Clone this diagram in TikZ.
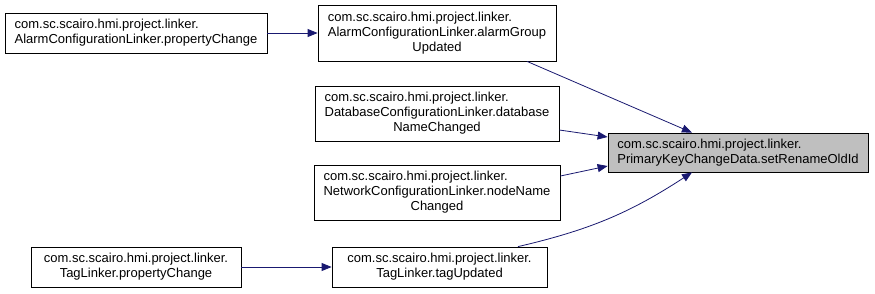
\documentclass[tikz,border=0pt]{standalone}
\usepackage{fontspec}
\setmainfont{Liberation Sans}
\usetikzlibrary{arrows.meta}

\definecolor{edgeblue}{HTML}{191970}
\definecolor{hlgray}{HTML}{BFBFBF}

% last line of a label is centred, the others are left aligned
\newcommand{\lastrow}[1]{\multicolumn{1}{@{}c@{}}{#1}}

\begin{document}
\begin{tikzpicture}[x=1pt, y=-1pt,
    fn/.style={draw=black, line width=0.8pt, inner sep=0pt,
        font=\fontsize{13}{15}\selectfont},
    cur/.style={fn, fill=hlgray},
    call/.style={draw=edgeblue, line width=0.8pt,
        -{Triangle[length=10pt, width=8pt]}},
]
\useasboundingbox (0,0) rectangle (875,293);

% Outer callers
\node[fn, minimum width=262pt, minimum height=40pt] (alarmProp) at (136,33)
    {\begin{tabular}{@{}l@{}}com.sc.scairo.hmi.project.linker.\\
     \lastrow{AlarmConfigurationLinker.propertyChange}\end{tabular}};
\node[fn, minimum width=210pt, minimum height=40pt] (tagProp) at (136,267)
    {\begin{tabular}{@{}l@{}}com.sc.scairo.hmi.project.linker.\\
     \lastrow{TagLinker.propertyChange}\end{tabular}};

% Direct callers
\node[fn, minimum width=238pt, minimum height=56pt] (alarmGrp) at (437,33)
    {\begin{tabular}{@{}l@{}}com.sc.scairo.hmi.project.linker.\\
     AlarmConfigurationLinker.alarmGroup\\ \lastrow{Updated}\end{tabular}};
\node[fn, minimum width=244pt, minimum height=55pt] (dbName) at (437,113.5)
    {\begin{tabular}{@{}l@{}}com.sc.scairo.hmi.project.linker.\\
     DatabaseConfigurationLinker.database\\ \lastrow{NameChanged}\end{tabular}};
\node[fn, minimum width=246pt, minimum height=55pt] (nodeName) at (437,192.5)
    {\begin{tabular}{@{}l@{}}com.sc.scairo.hmi.project.linker.\\
     NetworkConfigurationLinker.nodeName\\ \lastrow{Changed}\end{tabular}};
\node[fn, minimum width=215pt, minimum height=40pt] (tagUpd) at (439.5,267)
    {\begin{tabular}{@{}l@{}}com.sc.scairo.hmi.project.linker.\\
     \lastrow{TagLinker.tagUpdated}\end{tabular}};

% Called method
\node[cur, minimum width=260pt, minimum height=39pt] (setRename) at (738,152.5)
    {\begin{tabular}{@{}l@{}}com.sc.scairo.hmi.project.linker.\\
     \lastrow{PrimaryKeyChangeData.setRenameOldId}\end{tabular}};

% Calls
\draw[call] (alarmProp) -- (alarmGrp);
\draw[call] (tagProp) -- (tagUpd);
\draw[call] ([xshift=90pt]alarmGrp.south) -- (setRename);
\draw[call] ([yshift=-16.5pt]dbName.east) -- ([yshift=15.5pt]setRename.west);
\draw[call] ([yshift=16.5pt]nodeName.east) -- ([yshift=-13.5pt]setRename.west);
\draw[call] ([xshift=78.5pt]tagUpd.north) to[bend right=10]
    ([xshift=-46pt]setRename.south);

\end{tikzpicture}
\end{document}
